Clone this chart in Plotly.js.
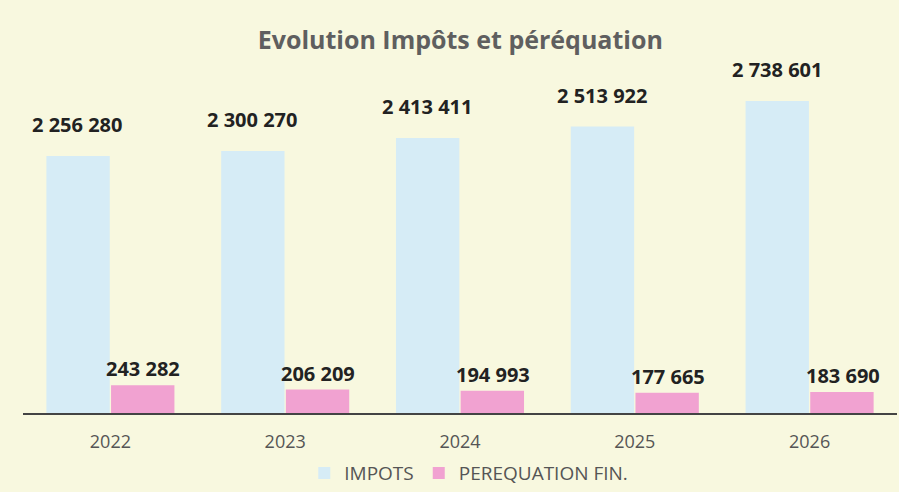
<!DOCTYPE html>
<html>
<head>
<meta charset="utf-8">
<script src="https://cdn.plot.ly/plotly-3.0.1.min.js"></script>
<style>
  html, body { margin: 0; padding: 0; background: #f8f8df; }
  #chart { width: 899px; height: 492px; }
</style>
</head>
<body>
<div id="chart"></div>
<script>
// values
const years = ['2022', '2023', '2024', '2025', '2026'];
const impots = [2256280, 2300270, 2413411, 2513922, 2738601];
const perequation = [243282, 206209, 194993, 177665, 183690];

// french style thousands: "2 256 280"
function fmt(v) {
  return String(v).replace(/\B(?=(\d{3})+(?!\d))/g, ' ');
}

const labelFont = { family: 'Open Sans, sans-serif', size: 20, color: '#222' };

// value labels sit above each bar, offset to the left/right bar of the group
let annotations = [];
years.forEach((y, i) => {
  annotations.push({
    x: y, y: impots[i], xref: 'x', yref: 'y',
    text: '<b>' + fmt(impots[i]) + '</b>',
    showarrow: false, xshift: -33, yshift: 16, yanchor: 'bottom',
    font: labelFont
  });
  annotations.push({
    x: y, y: perequation[i], xref: 'x', yref: 'y',
    text: '<b>' + fmt(perequation[i]) + '</b>',
    showarrow: false, xshift: 33, yshift: 1, yanchor: 'bottom',
    font: labelFont
  });
});

const traces = [
  {
    x: years, y: impots, name: 'IMPOTS', type: 'bar',
    marker: { color: '#d6ecf6' }
  },
  {
    x: years, y: perequation, name: 'PEREQUATION FIN.', type: 'bar',
    marker: { color: '#f1a2d1' }
  }
];

const layout = {
  width: 899,
  height: 492,
  paper_bgcolor: '#f8f8df',
  plot_bgcolor: '#f8f8df',
  margin: { l: 23, r: 2, t: 70, b: 79, autoexpand: false },
  barmode: 'group',
  bargap: 0.26,
  bargroupgap: 0.02,
  title: {
    text: '<b>Evolution Impôts et péréquation</b>',
    x: 0.512, xanchor: 'center',
    y: 0.918, yanchor: 'middle',
    font: { family: 'Open Sans, sans-serif', size: 25, color: '#5f5f5f' }
  },
  xaxis: {
    showline: true, linecolor: '#444', linewidth: 2,
    ticks: 'outside', ticklen: 11, tickcolor: 'rgba(0,0,0,0)',
    showgrid: false,
    tickfont: { family: 'Open Sans, sans-serif', size: 18, color: '#555' }
  },
  yaxis: {
    range: [0, 3010000],
    showgrid: false, zeroline: false, showticklabels: false, showline: false
  },
  showlegend: true,
  legend: {
    orientation: 'h', x: 0.51, xanchor: 'center', y: -0.12, yanchor: 'top',
    bgcolor: 'rgba(0,0,0,0)', itemwidth: 30,
    font: { family: 'Open Sans, sans-serif', size: 19, color: '#555' }
  },
  annotations: annotations
};

Plotly.newPlot('chart', traces, layout, { displayModeBar: false, staticPlot: true });
</script>
</body>
</html>
